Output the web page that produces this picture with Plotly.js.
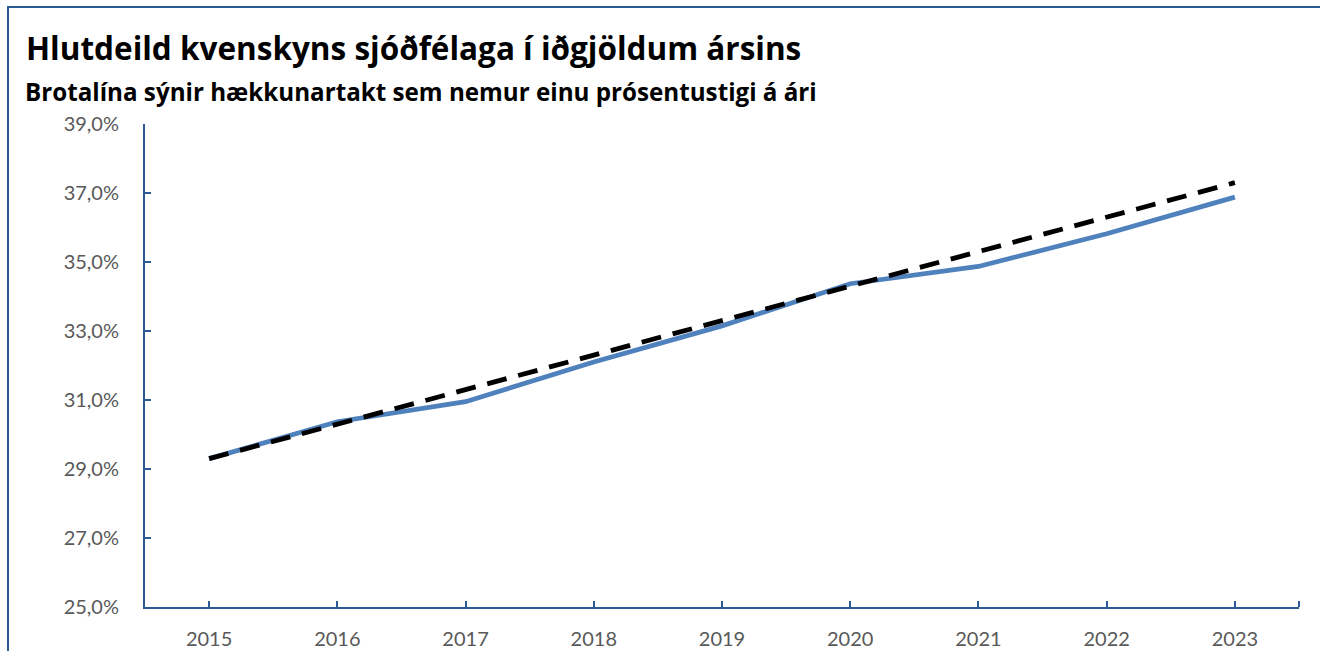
<!DOCTYPE html>
<html>
<head>
<meta charset="utf-8">
<script src="https://cdn.plot.ly/plotly-3.0.1.min.js"></script>
<style>
  html, body { margin: 0; padding: 0; background: #fff; overflow: hidden; }
  #chart { width: 1320px; height: 651px; }
  #frame { position: absolute; left: 7px; top: 6px; width: 1330px; height: 700px;
           border-left: 2px solid #2C5A93; border-top: 2px solid #2C5A93; pointer-events: none; }
</style>
</head>
<body>
<div id="chart"></div>
<div id="frame"></div>
<script>
// Data (percent)
const years = [2015, 2016, 2017, 2018, 2019, 2020, 2021, 2022, 2023];
const hlutdeild = [29.3, 30.37, 30.95, 32.1, 33.15, 34.37, 34.87, 35.82, 36.88];
const taktur = [29.3, 30.3, 31.3, 32.3, 33.3, 34.3, 35.3, 36.3, 37.3];
const yTicks = [25, 27, 29, 31, 33, 35, 37, 39];

const titleText = 'Hlutdeild kvenskyns sjóðfélaga í iðgjöldum ársins';
const subtitleText = 'Brotalína sýnir hækkunartakt sem nemur einu prósentustigi á ári';

const axisColor = '#2C5A93';
const font = 'Lato, "Open Sans", sans-serif';
const titleFont = '"Open Sans", Lato, sans-serif';

const traces = [
  {
    x: years, y: hlutdeild, type: 'scatter', mode: 'lines',
    name: 'Hlutdeild kvenskyns sjóðfélaga',
    line: { color: '#4F81BD', width: 4.8 }
  },
  {
    x: years, y: taktur, type: 'scatter', mode: 'lines',
    name: 'Hækkunartakt 1 prósentustig á ári',
    line: { color: '#000000', width: 4.8, dash: '20px,12px' }
  }
];

const layout = {
  width: 1320, height: 651,
  margin: { l: 145, r: 21, t: 124, b: 44 },
  paper_bgcolor: '#ffffff', plot_bgcolor: '#ffffff',
  showlegend: false,
  font: { family: font, color: '#595959' },
  title: {
    text: '<b>' + titleText + '</b>',
    font: { family: titleFont, size: 31.5, color: '#000000' },
    xref: 'container', yref: 'container',
    x: 26 / 1320, xanchor: 'left',
    y: 1 - 49 / 651, yanchor: 'middle'
  },
  annotations: [{
    text: '<b>' + subtitleText + '</b>',
    xref: 'paper', yref: 'paper',
    x: (23 - 145) / 1154, xanchor: 'left',
    y: 1 + (124 - 91) / 483, yanchor: 'middle',
    showarrow: false,
    font: { family: titleFont, size: 24.2, color: '#000000' }
  }],
  xaxis: {
    type: 'linear',
    range: [2014.5, 2023.5],
    tickvals: years,
    ticktext: years.map(String),
    ticks: 'inside', ticklen: 6, tickwidth: 2, tickcolor: axisColor,
    showline: true, linecolor: axisColor, linewidth: 2,
    showgrid: false, zeroline: false,
    tickfont: { family: font, size: 20, color: '#595959' },
    ticklabelstandoff: 13
  },
  yaxis: {
    range: [25, 39],
    tickvals: yTicks,
    ticktext: yTicks.map(v => v.toFixed(1).replace('.', ',') + '%'),
    ticks: 'inside', ticklen: 6, tickwidth: 2, tickcolor: axisColor,
    showline: true, linecolor: axisColor, linewidth: 2,
    showgrid: false, zeroline: false,
    tickfont: { family: font, size: 20, color: '#595959' },
    ticklabelstandoff: 20
  },
  shapes: [{
    type: 'line', xref: 'paper', yref: 'paper',
    x0: 1, x1: 1, y0: 0, y1: 6 / 483,
    line: { color: axisColor, width: 2 }
  }]
};

Plotly.newPlot('chart', traces, layout, { displayModeBar: false, staticPlot: true });
</script>
</body>
</html>
